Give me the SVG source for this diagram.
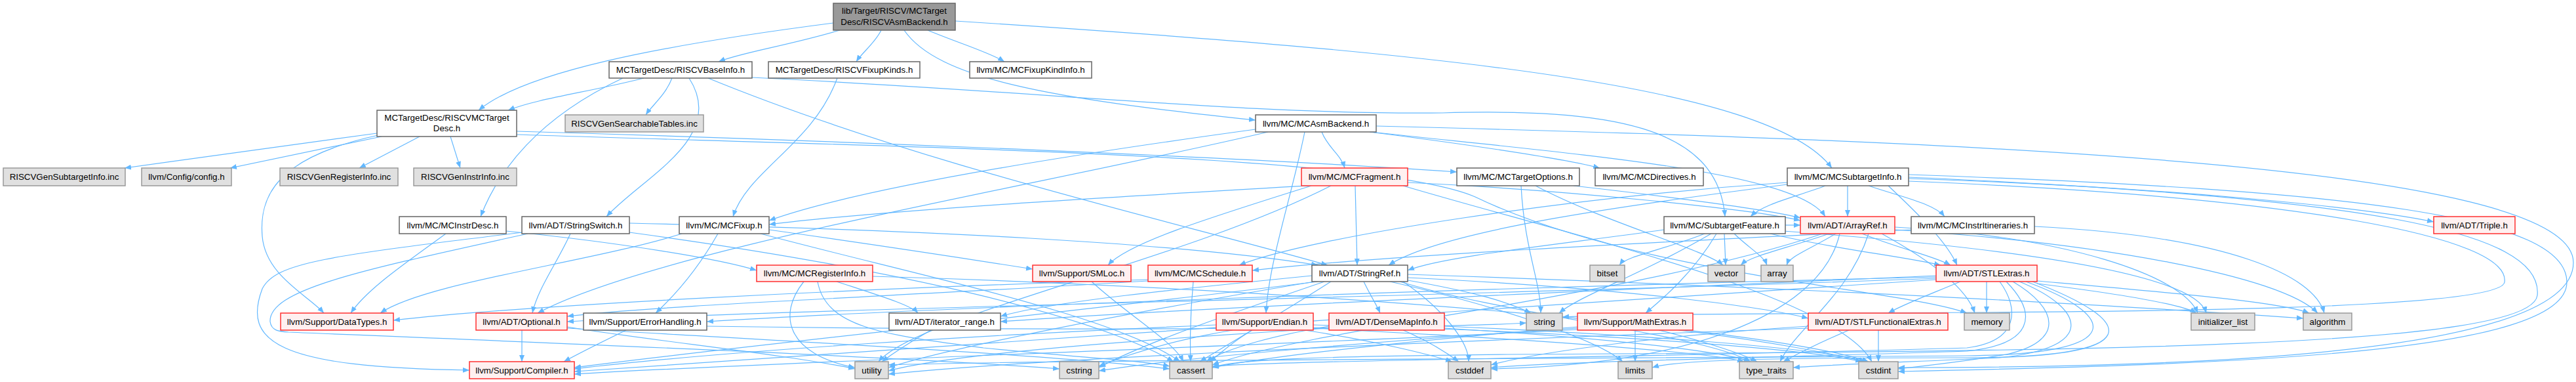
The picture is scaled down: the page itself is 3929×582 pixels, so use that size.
<svg xmlns="http://www.w3.org/2000/svg" width="3929" height="582" viewBox="0 0 3929 582">
<style>
.e{fill:none;stroke:#63b8ff;stroke-width:1.2;marker-end:url(#ah)}
.nw{fill:#ffffff;stroke:#666666;stroke-width:1.5}
.ng{fill:#e0e0e0;stroke:#999999;stroke-width:1.5}
.nr{fill:#fff0f0;stroke:#ff3030;stroke-width:1.5}
.nroot{fill:#999999;stroke:#666666;stroke-width:1.5}
text{font-family:"Liberation Sans",Arial,sans-serif;font-size:13.33px;text-anchor:middle;fill:#000000}
</style>
<defs>
<marker id="ah" markerUnits="userSpaceOnUse" markerWidth="11" markerHeight="9" refX="10" refY="4" orient="auto">
<path d="M0,0 L10,4 L0,8 z" fill="#63b8ff"/>
</marker>
</defs>
<rect width="3929" height="582" fill="#ffffff"/>
<g id="edges">
<path class="e" d="M1271,35 C1000,70 800,110 730,168"/>
<path class="e" d="M1281,46 C1200,70 1130,80 1096,94"/>
<path class="e" d="M1344,46 C1335,65 1315,80 1306,94"/>
<path class="e" d="M1415,46 C1460,65 1510,80 1532,94"/>
<path class="e" d="M1379,46 C1430,120 1600,150 1915,183"/>
<path class="e" d="M1457,32 C2200,80 2700,130 2794,256"/>
<path class="e" d="M982,119 C900,140 820,150 775,168"/>
<path class="e" d="M1025,119 C1015,145 995,160 985,175"/>
<path class="e" d="M950,119 C820,180 760,260 733,330"/>
<path class="e" d="M1051,119 C1110,210 980,270 925,330"/>
<path class="e" d="M1080,119 C1400,250 1800,340 2025,404"/>
<path class="e" d="M1147,118 C1600,140 1900,175 2200,172 C2450,165 2620,190 2631,330"/>
<path class="e" d="M1277,119 C1240,220 1140,260 1118,330"/>
<path class="e" d="M575,203 L190,256"/>
<path class="e" d="M582,208 L351,256"/>
<path class="e" d="M640,208 L548,256"/>
<path class="e" d="M687,208 L702,256"/>
<path class="e" d="M577,206 C420,240 395,300 400,360 C405,420 470,450 494,477"/>
<path class="e" d="M788,200 C1300,215 1900,240 2222,262"/>
<path class="e" d="M788,205 C1400,225 2100,235 2250,300 C2500,420 2900,440 3000,477"/>
<path class="e" d="M2016,201 C2025,225 2045,235 2051,256"/>
<path class="e" d="M2089,201 C2200,215 2380,240 2440,256"/>
<path class="e" d="M2099,192 C3000,215 3925,250 3925,400 C3925,545 3300,560 2895,560"/>
<path class="e" d="M2090,201 C2400,235 2740,260 2784,330"/>
<path class="e" d="M1915,197 C1600,240 1300,290 1173,336"/>
<path class="e" d="M1934,201 C1600,280 1000,380 820,477"/>
<path class="e" d="M1990,201 C1970,300 1935,400 1931,477"/>
<path class="e" d="M2818,283 L2818,330"/>
<path class="e" d="M2784,283 C2740,300 2690,310 2670,330"/>
<path class="e" d="M2850,283 C2900,300 2950,310 2966,330"/>
<path class="e" d="M2911,272 C3300,285 3600,315 3712,338"/>
<path class="e" d="M2726,278 C2400,300 2000,360 1890,404"/>
<path class="e" d="M2880,283 C2930,330 2970,370 2985,404"/>
<path class="e" d="M2726,281 C2500,310 2200,350 2118,404"/>
<path class="e" d="M2911,266 C3600,290 3915,330 3915,430 C3915,540 3400,555 2895,566"/>
<path class="e" d="M2911,270 C3600,300 3880,350 3870,450 C3860,530 3200,535 2300,540 C2000,543 1880,548 1849,560"/>
<path class="e" d="M2911,276 C3500,300 3830,360 3820,430 C3810,490 2700,470 2383,483"/>
<path class="e" d="M1040,356 C900,400 650,430 580,477"/>
<path class="e" d="M1095,356 C1070,400 1040,440 1000,477"/>
<path class="e" d="M1173,350 C1350,375 1480,395 1575,410"/>
<path class="e" d="M1160,356 C1400,420 1700,480 1800,551"/>
<path class="e" d="M1995,283 C1700,300 1350,320 1173,342"/>
<path class="e" d="M2067,283 L2070,404"/>
<path class="e" d="M2147,278 C2400,290 2680,320 2746,336"/>
<path class="e" d="M2000,283 C1850,330 1720,370 1690,404"/>
<path class="e" d="M2140,283 C2400,360 2800,450 2855,551"/>
<path class="e" d="M2030,283 C1800,400 1400,480 1340,551"/>
<path class="e" d="M2320,283 C2325,380 2350,430 2350,477"/>
<path class="e" d="M2342,283 C2450,340 2600,380 2628,404"/>
<path class="e" d="M2400,283 C2550,300 2700,320 2746,332"/>
<path class="e" d="M680,356 C620,400 560,440 535,477"/>
<path class="e" d="M772,352 C950,370 1100,395 1154,412"/>
<path class="e" d="M960,340 C1400,350 1800,370 2010,404"/>
<path class="e" d="M797,354 C500,390 420,400 400,440 C370,520 420,560 716,564"/>
<path class="e" d="M870,356 C850,400 820,440 812,477"/>
<path class="e" d="M805,356 C560,410 410,440 412,490 C414,504 425,505 440,506 C900,525 1400,545 1616,562"/>
<path class="e" d="M960,354 C1300,400 1650,470 1790,551"/>
<path class="e" d="M2915,350 C2500,370 2100,390 1910,412"/>
<path class="e" d="M3103,345 C3400,360 3530,420 3545,477"/>
<path class="e" d="M2600,356 C2540,380 2480,390 2470,404"/>
<path class="e" d="M2630,356 L2632,404"/>
<path class="e" d="M2645,356 C2670,380 2690,390 2695,404"/>
<path class="e" d="M2610,356 C2500,420 2410,450 2378,477"/>
<path class="e" d="M2618,356 C2580,420 2530,460 2510,477"/>
<path class="e" d="M2723,343 L2746,343"/>
<path class="e" d="M2538,350 C2400,370 2200,390 2147,412"/>
<path class="e" d="M2700,356 C2800,380 2900,390 2960,404"/>
<path class="e" d="M2720,352 C3100,380 3350,420 3365,477"/>
<path class="e" d="M2790,356 C2720,380 2670,390 2655,404"/>
<path class="e" d="M2800,356 C2760,380 2730,390 2725,404"/>
<path class="e" d="M2840,356 C2900,380 2950,390 2975,404"/>
<path class="e" d="M2806,356 C2780,470 2600,555 2274,562"/>
<path class="e" d="M2890,350 C3200,370 3480,420 3535,477"/>
<path class="e" d="M2890,346 C3150,360 3330,420 3352,477"/>
<path class="e" d="M2870,356 C2950,400 3000,440 3012,477"/>
<path class="e" d="M2850,356 C2820,450 2740,500 2715,551"/>
<path class="e" d="M2780,356 C2500,450 2000,500 1849,556"/>
<path class="e" d="M1276,429 C1340,450 1390,465 1400,477"/>
<path class="e" d="M1226,429 C1185,480 1200,540 1304,560"/>
<path class="e" d="M1247,429 C1260,500 1350,510 1500,530 C1650,545 1750,550 1784,558"/>
<path class="e" d="M1331,421 C2000,440 2700,500 2850,551"/>
<path class="e" d="M1665,429 C1720,480 1790,520 1805,551"/>
<path class="e" d="M1820,429 C1815,480 1815,520 1816,551"/>
<path class="e" d="M1751,426 C1300,440 800,465 600,488"/>
<path class="e" d="M1751,428 C1400,450 1000,465 865,482"/>
<path class="e" d="M2080,429 C2090,450 2100,465 2105,477"/>
<path class="e" d="M2147,423 C2500,440 2700,470 2758,485"/>
<path class="e" d="M2001,420 C1800,440 1600,460 1526,482"/>
<path class="e" d="M2010,429 C1600,480 1100,530 876,560"/>
<path class="e" d="M2147,418 C2800,440 3300,470 3513,485"/>
<path class="e" d="M2030,429 C1950,480 1880,520 1830,551"/>
<path class="e" d="M2140,429 C2200,470 2240,520 2240,551"/>
<path class="e" d="M2020,429 C1900,470 1750,520 1676,560"/>
<path class="e" d="M2120,429 C2300,470 2440,520 2475,551"/>
<path class="e" d="M2147,427 C2250,445 2300,460 2335,477"/>
<path class="e" d="M2135,429 C2300,480 2600,510 2670,551"/>
<path class="e" d="M2005,429 C1700,480 1450,530 1355,560"/>
<path class="e" d="M2990,429 C2940,450 2900,465 2880,477"/>
<path class="e" d="M3030,429 L3030,477"/>
<path class="e" d="M3107,432 C3250,450 3330,465 3350,477"/>
<path class="e" d="M3107,428 C3300,445 3480,460 3522,477"/>
<path class="e" d="M3050,429 C3080,470 3080,520 3000,530 C2500,545 2000,548 1849,558"/>
<path class="e" d="M3060,429 C3110,480 3100,525 3000,535 C2700,545 2400,550 2274,560"/>
<path class="e" d="M3070,429 C3140,470 3150,520 3060,540 C3000,550 2950,556 2895,562"/>
<path class="e" d="M3080,429 C3180,470 3200,530 3050,545 C2900,552 2800,555 2735,560"/>
<path class="e" d="M3090,429 C3230,480 3250,540 3000,542 C2500,546 1600,548 1355,556"/>
<path class="e" d="M3100,429 C3260,490 3280,545 3000,545 C2700,545 2560,548 2520,560"/>
<path class="e" d="M2953,420 C2500,440 1800,470 1526,490"/>
<path class="e" d="M2953,424 C2300,450 1200,470 865,490"/>
<path class="e" d="M2953,426 C2300,470 1200,540 876,566"/>
<path class="e" d="M2953,422 C2200,440 1400,470 1078,490"/>
<path class="e" d="M796,503 L796,551"/>
<path class="e" d="M865,498 C1000,520 1200,540 1304,562"/>
<path class="e" d="M865,500 C1200,520 1600,540 1784,562"/>
<path class="e" d="M955,503 C920,520 880,540 860,551"/>
<path class="e" d="M1078,497 C1600,505 2200,500 2328,492"/>
<path class="e" d="M1420,503 C1390,520 1360,540 1345,551"/>
<path class="e" d="M1910,503 C1880,520 1860,540 1845,551"/>
<path class="e" d="M1880,503 C1780,520 1720,540 1676,558"/>
<path class="e" d="M1855,495 C1500,510 1100,535 876,562"/>
<path class="e" d="M1990,503 C2100,520 2180,540 2215,551"/>
<path class="e" d="M2003,495 C2400,505 2750,530 2840,551"/>
<path class="e" d="M2003,500 C2300,515 2600,535 2660,551"/>
<path class="e" d="M2140,503 C2180,520 2210,540 2225,551"/>
<path class="e" d="M2027,497 C1950,510 1870,530 1840,551"/>
<path class="e" d="M2203,497 C2500,510 2780,530 2845,551"/>
<path class="e" d="M2203,500 C2450,515 2630,535 2670,551"/>
<path class="e" d="M2027,500 C1700,520 1450,540 1355,565"/>
<path class="e" d="M2494,503 L2494,551"/>
<path class="e" d="M2530,503 C2600,520 2660,540 2680,551"/>
<path class="e" d="M2560,503 C2700,520 2800,540 2845,551"/>
<path class="e" d="M2406,498 C2200,515 1950,540 1849,560"/>
<path class="e" d="M2406,500 C2100,520 1800,545 1676,565"/>
<path class="e" d="M2406,502 C2000,525 1200,550 876,570"/>
<path class="e" d="M2865,503 L2865,551"/>
<path class="e" d="M2820,503 C2780,520 2740,540 2720,551"/>
<path class="e" d="M2758,497 C2550,510 2350,535 2274,556"/>
<path class="e" d="M2758,500 C2200,520 1600,545 1355,570"/>
</g>
<g id="n_root"><rect class="nroot" x="1271" y="5" width="186" height="41"/><text x="1364" y="21">lib/Target/RISCV/MCTarget</text><text x="1364" y="38">Desc/RISCVAsmBackend.h</text></g>
<g id="n_baseinfo"><rect class="nw" x="929" y="94" width="218" height="25"/><text x="1038" y="111">MCTargetDesc/RISCVBaseInfo.h</text></g>
<g id="n_fixupkinds"><rect class="nw" x="1172" y="94" width="231" height="25"/><text x="1287.5" y="111">MCTargetDesc/RISCVFixupKinds.h</text></g>
<g id="n_fixupkindinfo"><rect class="nw" x="1479" y="94" width="186" height="25"/><text x="1572" y="111">llvm/MC/MCFixupKindInfo.h</text></g>
<g id="n_mctargetdesc"><rect class="nw" x="575" y="168" width="213" height="40"/><text x="681.5" y="184">MCTargetDesc/RISCVMCTarget</text><text x="681.5" y="200">Desc.h</text></g>
<g id="n_searchable"><rect class="ng" x="862" y="175" width="211" height="26"/><text x="967.5" y="192.5">RISCVGenSearchableTables.inc</text></g>
<g id="n_asmbackend"><rect class="nw" x="1915" y="175" width="184" height="26"/><text x="2007" y="192.5">llvm/MC/MCAsmBackend.h</text></g>
<g id="n_subinc"><rect class="ng" x="5" y="256" width="186" height="27"/><text x="98" y="274">RISCVGenSubtargetInfo.inc</text></g>
<g id="n_config"><rect class="ng" x="216" y="256" width="137" height="27"/><text x="284.5" y="274">llvm/Config/config.h</text></g>
<g id="n_reginc"><rect class="ng" x="427" y="256" width="180" height="27"/><text x="517" y="274">RISCVGenRegisterInfo.inc</text></g>
<g id="n_instrinc"><rect class="ng" x="631" y="256" width="157" height="27"/><text x="709.5" y="274">RISCVGenInstrInfo.inc</text></g>
<g id="n_mcfragment"><rect class="nr" x="1985" y="256" width="162" height="27"/><text x="2066" y="274">llvm/MC/MCFragment.h</text></g>
<g id="n_mctargetoptions"><rect class="nw" x="2222" y="256" width="187" height="27"/><text x="2315.5" y="274">llvm/MC/MCTargetOptions.h</text></g>
<g id="n_mcdirectives"><rect class="nw" x="2433" y="256" width="165" height="27"/><text x="2515.5" y="274">llvm/MC/MCDirectives.h</text></g>
<g id="n_mcsubtargetinfo"><rect class="nw" x="2726" y="256" width="185" height="27"/><text x="2818.5" y="274">llvm/MC/MCSubtargetInfo.h</text></g>
<g id="n_mcinstrdesc"><rect class="nw" x="609" y="330" width="163" height="26"/><text x="690.5" y="347.5">llvm/MC/MCInstrDesc.h</text></g>
<g id="n_stringswitch"><rect class="nw" x="796" y="330" width="164" height="26"/><text x="878" y="347.5">llvm/ADT/StringSwitch.h</text></g>
<g id="n_mcfixup"><rect class="nw" x="1036" y="330" width="137" height="26"/><text x="1104.5" y="347.5">llvm/MC/MCFixup.h</text></g>
<g id="n_subtargetfeature"><rect class="nw" x="2538" y="330" width="185" height="26"/><text x="2630.5" y="347.5">llvm/MC/SubtargetFeature.h</text></g>
<g id="n_arrayref"><rect class="nr" x="2746" y="330" width="144" height="26"/><text x="2818" y="347.5">llvm/ADT/ArrayRef.h</text></g>
<g id="n_mcinstritin"><rect class="nw" x="2915" y="330" width="188" height="26"/><text x="3009" y="347.5">llvm/MC/MCInstrItineraries.h</text></g>
<g id="n_triple"><rect class="nr" x="3712" y="330" width="124" height="26"/><text x="3774" y="347.5">llvm/ADT/Triple.h</text></g>
<g id="n_mcreginfo"><rect class="nr" x="1154" y="404" width="177" height="25"/><text x="1242.5" y="421">llvm/MC/MCRegisterInfo.h</text></g>
<g id="n_smloc"><rect class="nr" x="1575" y="404" width="150" height="25"/><text x="1650" y="421">llvm/Support/SMLoc.h</text></g>
<g id="n_mcschedule"><rect class="nr" x="1751" y="404" width="159" height="25"/><text x="1830.5" y="421">llvm/MC/MCSchedule.h</text></g>
<g id="n_stringref"><rect class="nw" x="2001" y="404" width="146" height="25"/><text x="2074" y="421">llvm/ADT/StringRef.h</text></g>
<g id="n_bitset"><rect class="ng" x="2425" y="404" width="53" height="25"/><text x="2451.5" y="421">bitset</text></g>
<g id="n_vector"><rect class="ng" x="2605" y="404" width="56" height="25"/><text x="2633" y="421">vector</text></g>
<g id="n_array"><rect class="ng" x="2686" y="404" width="49" height="25"/><text x="2710.5" y="421">array</text></g>
<g id="n_stlextras"><rect class="nr" x="2953" y="404" width="154" height="25"/><text x="3030" y="421">llvm/ADT/STLExtras.h</text></g>
<g id="n_datatypes"><rect class="nr" x="428" y="477" width="172" height="26"/><text x="514" y="494.5">llvm/Support/DataTypes.h</text></g>
<g id="n_optional"><rect class="nr" x="726" y="477" width="139" height="26"/><text x="795.5" y="494.5">llvm/ADT/Optional.h</text></g>
<g id="n_errorhandling"><rect class="nw" x="890" y="477" width="188" height="26"/><text x="984" y="494.5">llvm/Support/ErrorHandling.h</text></g>
<g id="n_iterator_range"><rect class="nw" x="1356" y="477" width="170" height="26"/><text x="1441" y="494.5">llvm/ADT/iterator_range.h</text></g>
<g id="n_endian"><rect class="nr" x="1855" y="477" width="148" height="26"/><text x="1929" y="494.5">llvm/Support/Endian.h</text></g>
<g id="n_densemapinfo"><rect class="nr" x="2027" y="477" width="176" height="26"/><text x="2115" y="494.5">llvm/ADT/DenseMapInfo.h</text></g>
<g id="n_string"><rect class="ng" x="2328" y="477" width="55" height="26"/><text x="2355.5" y="494.5">string</text></g>
<g id="n_mathextras"><rect class="nr" x="2406" y="477" width="176" height="26"/><text x="2494" y="494.5">llvm/Support/MathExtras.h</text></g>
<g id="n_stlfunctional"><rect class="nr" x="2758" y="477" width="213" height="26"/><text x="2864.5" y="494.5">llvm/ADT/STLFunctionalExtras.h</text></g>
<g id="n_memory"><rect class="ng" x="2996" y="477" width="69" height="26"/><text x="3030.5" y="494.5">memory</text></g>
<g id="n_initializer_list"><rect class="ng" x="3342" y="477" width="97" height="26"/><text x="3390.5" y="494.5">initializer_list</text></g>
<g id="n_algorithm"><rect class="ng" x="3513" y="477" width="74" height="26"/><text x="3550" y="494.5">algorithm</text></g>
<g id="n_compiler"><rect class="nr" x="716" y="551" width="160" height="26"/><text x="796" y="568.5">llvm/Support/Compiler.h</text></g>
<g id="n_utility"><rect class="ng" x="1304" y="551" width="51" height="26"/><text x="1329.5" y="568.5">utility</text></g>
<g id="n_cstring"><rect class="ng" x="1616" y="551" width="60" height="26"/><text x="1646" y="568.5">cstring</text></g>
<g id="n_cassert"><rect class="ng" x="1784" y="551" width="65" height="26"/><text x="1816.5" y="568.5">cassert</text></g>
<g id="n_cstddef"><rect class="ng" x="2209" y="551" width="65" height="26"/><text x="2241.5" y="568.5">cstddef</text></g>
<g id="n_limits"><rect class="ng" x="2468" y="551" width="52" height="26"/><text x="2494" y="568.5">limits</text></g>
<g id="n_type_traits"><rect class="ng" x="2653" y="551" width="82" height="26"/><text x="2694" y="568.5">type_traits</text></g>
<g id="n_cstdint"><rect class="ng" x="2835" y="551" width="60" height="26"/><text x="2865" y="568.5">cstdint</text></g>
</svg>
